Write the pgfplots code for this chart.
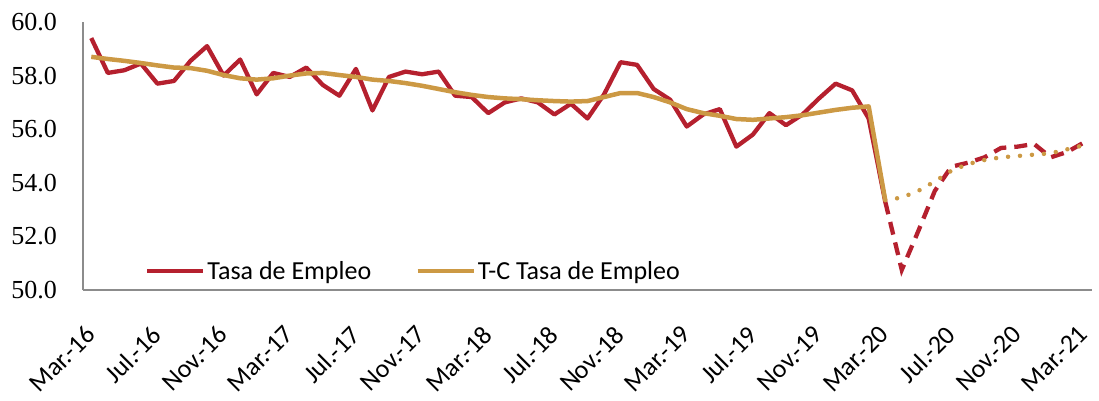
\documentclass[border=0pt]{standalone}
\usepackage{fontspec}
\setmainfont{Liberation Serif}
\newfontfamily\calibri{Carlito}
\usepackage{pgfplots}
\pgfplotsset{compat=1.18}
\definecolor{empred}{RGB}{181,32,46}
\definecolor{empgold}{RGB}{204,153,68}
\begin{document}
\begin{tikzpicture}
\useasboundingbox (-83pt,-110pt) rectangle (1016pt,290pt);
\begin{axis}[
  scale only axis,
  width=1009pt, height=268pt,
  at={(0pt,0pt)}, anchor=south west,
  xmin=-0.5, xmax=60.5,
  ymin=50, ymax=60,
  axis lines*=left,
  axis line style={draw=gray!90, line width=1.2pt},
  major tick length=0pt,
  xtick={0,4,...,60},
  xticklabels={Mar.-16,Jul.-16,Nov.-16,Mar.-17,Jul.-17,Nov.-17,Mar.-18,Jul.-18,Nov.-18,Mar.-19,Jul.-19,Nov.-19,Mar.-20,Jul.-20,Nov.-20,Mar.-21},
  xticklabel style={font=\calibri\fontsize{26}{30}\selectfont, rotate=45, anchor=north east, inner sep=0pt, xshift=-28.9pt, yshift=-19.1pt},
  ytick={50,52,54,56,58,60},
  yticklabels={50.0,52.0,54.0,56.0,58.0,60.0},
  yticklabel style={font=\fontsize{26}{29}\selectfont, anchor=east, inner sep=0pt, xshift=-26pt},
  clip=false,
  legend columns=2,
  legend style={draw=none, fill=none, at={(0.0614,0.071)}, anchor=west,
    font=\calibri\fontsize{26}{29}\selectfont, inner sep=0pt,
    /tikz/every even column/.append style={column sep=42pt}},
  legend image code/.code={\draw[#1, solid] (0pt,0pt) -- (56pt,0pt);},
]
\addplot[empred, line width=4.3pt, line join=round] coordinates {
(0,59.4)(1,58.1)(2,58.2)(3,58.45)(4,57.7)(5,57.8)(6,58.55)(7,59.1)(8,58.0)(9,58.6)
(10,57.3)(11,58.1)(12,57.95)(13,58.3)(14,57.65)(15,57.25)(16,58.25)(17,56.7)(18,57.95)(19,58.15)
(20,58.05)(21,58.15)(22,57.25)(23,57.2)(24,56.6)(25,57.0)(26,57.15)(27,57.0)(28,56.55)(29,56.95)
(30,56.4)(31,57.3)(32,58.5)(33,58.4)(34,57.5)(35,57.1)(36,56.1)(37,56.55)(38,56.75)(39,55.35)
(40,55.8)(41,56.6)(42,56.15)(43,56.55)(44,57.15)(45,57.7)(46,57.45)(47,56.4)(48,53.3)
};
\addlegendentry{Tasa de Empleo}
\addplot[empgold, line width=4.5pt, line join=round] coordinates {
(0,58.7)(1,58.62)(2,58.55)(3,58.47)(4,58.38)(5,58.3)(6,58.28)(7,58.18)(8,58.02)(9,57.9)
(10,57.85)(11,57.9)(12,58.0)(13,58.08)(14,58.1)(15,58.02)(16,57.95)(17,57.85)(18,57.8)(19,57.72)
(20,57.62)(21,57.5)(22,57.38)(23,57.28)(24,57.2)(25,57.15)(26,57.12)(27,57.08)(28,57.05)(29,57.03)
(30,57.05)(31,57.2)(32,57.35)(33,57.35)(34,57.2)(35,57.0)(36,56.75)(37,56.6)(38,56.5)(39,56.38)
(40,56.35)(41,56.4)(42,56.45)(43,56.52)(44,56.62)(45,56.72)(46,56.8)(47,56.85)(48,53.35)
};
\addlegendentry{T-C Tasa de Empleo}
\addplot[empred, line width=4.3pt, dash pattern=on 13pt off 8pt, forget plot] coordinates {
(48,53.3)(49,50.75)(50,52.2)(51,53.7)(52,54.6)(53,54.75)(54,54.95)(55,55.3)(56,55.35)(57,55.45)
(58,54.95)(59,55.15)(60,55.5)
};
\addplot[empgold, line width=4.5pt, line cap=round, dash pattern=on 0pt off 12pt, forget plot] coordinates {
(48,53.35)(49,53.45)(50,53.7)(51,54.05)(52,54.45)(53,54.7)(54,54.85)(55,54.95)(56,55.0)(57,55.05)
(58,55.1)(59,55.25)(60,55.4)
};
\end{axis}
\end{tikzpicture}
\end{document}
